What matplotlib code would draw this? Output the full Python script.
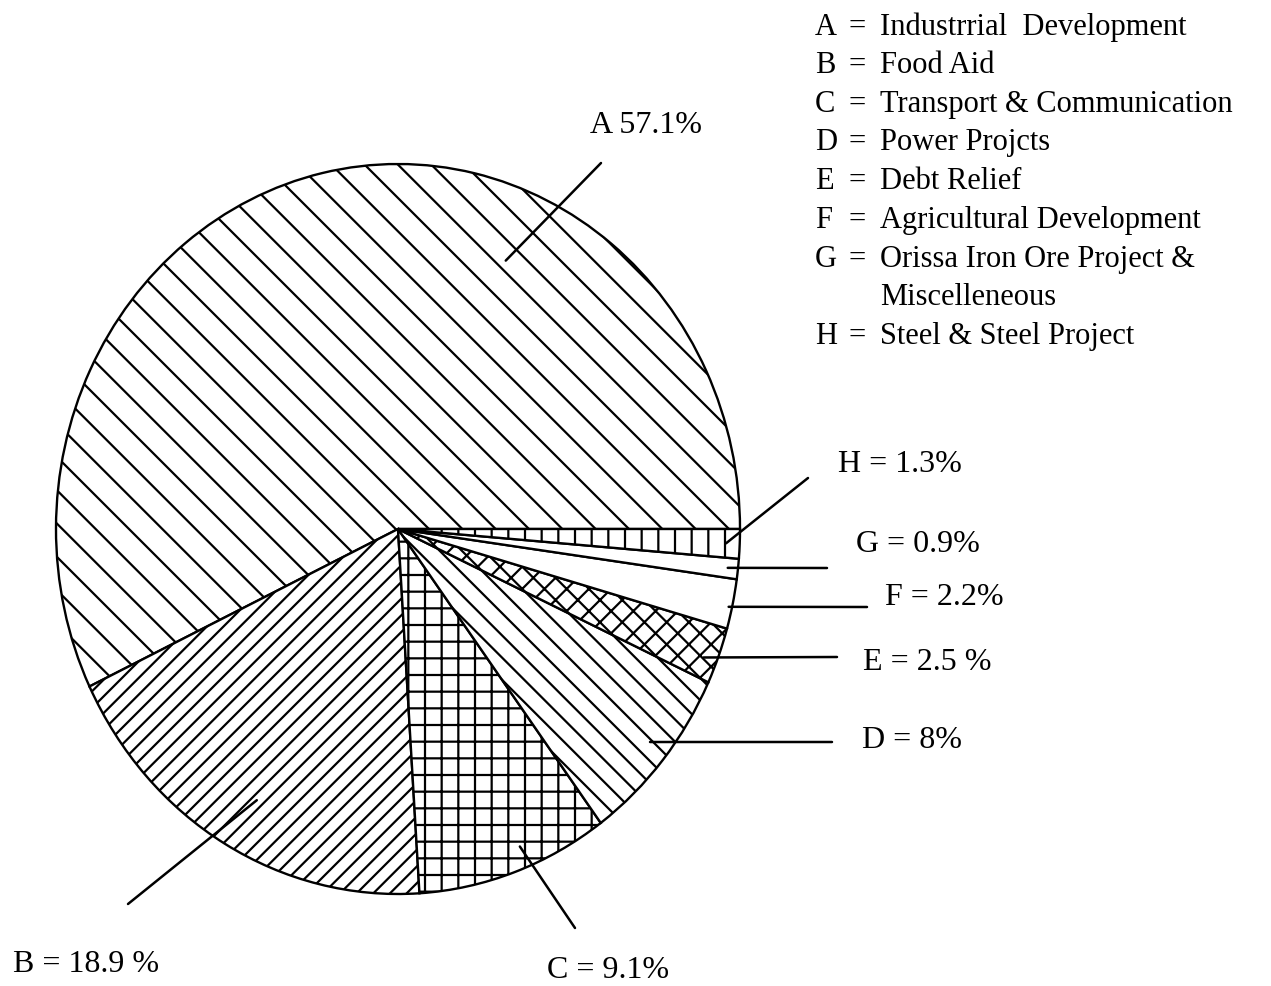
import matplotlib
matplotlib.use("Agg")
import numpy as np
import matplotlib.pyplot as plt

# pie data, counterclockwise from 3 o'clock
letters = ["A", "B", "C", "D", "E", "F", "G", "H"]
shares = [57.1, 18.9, 9.1, 8.0, 2.5, 2.2, 0.9, 1.3]
slice_labels = ["A 57.1%", "B = 18.9 %", "C = 9.1%", "D = 8%",
                "E = 2.5 %", "F = 2.2%", "G = 0.9%", "H = 1.3%"]
# diagonal hatches come out half as dense as straight ones, hence the doubling
hatches = ["\\\\", "////", "++", "\\\\\\", "xxx", "", "", "||"]

legend_names = ["Industrrial  Development", "Food Aid",
                "Transport & Communication", "Power Projcts", "Debt Relief",
                "Agricultural Development", "Orissa Iron Ore Project &",
                "Steel & Steel Project"]

W, H = 1271, 986
DPI = 200

plt.rcParams['font.family'] = ['Liberation Serif', 'DejaVu Serif']
plt.rcParams['hatch.linewidth'] = 0.8
plt.rcParams['hatch.color'] = 'black'


def px(x, y):
    # image pixel -> figure fraction
    return x / W, 1 - y / H


fig = plt.figure(figsize=(W / DPI, H / DPI), dpi=DPI)
fig.patch.set_facecolor('white')

# pie box: center (398, 529), radii 342 x 365 px
cx, cy, rx, ry = 398, 529, 342, 365
ax = fig.add_axes([(cx - rx) / W, 1 - (cy + ry) / H, 2 * rx / W, 2 * ry / H])
wedges, _ = ax.pie(shares, startangle=0, counterclock=True,
                   colors=['white'] * len(shares),
                   wedgeprops=dict(edgecolor='black', linewidth=0.85))
for w, h in zip(wedges, hatches):
    w.set_hatch(h)
ax.set_aspect('auto')
ax.set_xlim(-1, 1)
ax.set_ylim(-1, 1)
ax.axis('off')

# leader lines: where in the wedge they touch, and their outer ends
anchor_frac = [0.325, 0.52, 0.57, 0.53, 0.37, 0.43, 0.5, 0.5]
anchor_r = [0.80, 0.85, 0.94, 0.94, 0.96, 0.99, 0.97, 0.96]
line_ends = [(601, 163), (128, 904), (575, 928), (832, 742),
             (837, 657), (867, 607), (827, 568), (808, 478)]
text_pos = [(590, 133), (13, 972), (547, 978), (862, 748),
            (863, 670), (885, 605), (856, 552), (838, 472)]

for w, f, r, end, tp, lab in zip(wedges, anchor_frac, anchor_r,
                                 line_ends, text_pos, slice_labels):
    ang = np.deg2rad(w.theta1 + f * (w.theta2 - w.theta1))
    ax.annotate('', xy=(r * np.cos(ang), r * np.sin(ang)), xycoords='data',
                xytext=px(*end), textcoords='figure fraction',
                annotation_clip=False,
                arrowprops=dict(arrowstyle='-', color='black', lw=0.9,
                                shrinkA=0, shrinkB=0))
    fig.text(*px(*tp), lab, fontsize=11.5, ha='left', va='baseline')

# key in the top right
base_y = [35, 73, 112, 150, 189, 228, 267, 344]
for let, name, y in zip(letters, legend_names, base_y):
    fig.text(*px(815, y), let, fontsize=11, ha='left', va='baseline')
    fig.text(*px(848, y), "=", fontsize=11, ha='left', va='baseline')
    fig.text(*px(880, y), name, fontsize=11, ha='left', va='baseline')
fig.text(*px(880, 305), "Miscelleneous", fontsize=11, ha='left', va='baseline')

fig.savefig("out.png", dpi=DPI, facecolor='white')
